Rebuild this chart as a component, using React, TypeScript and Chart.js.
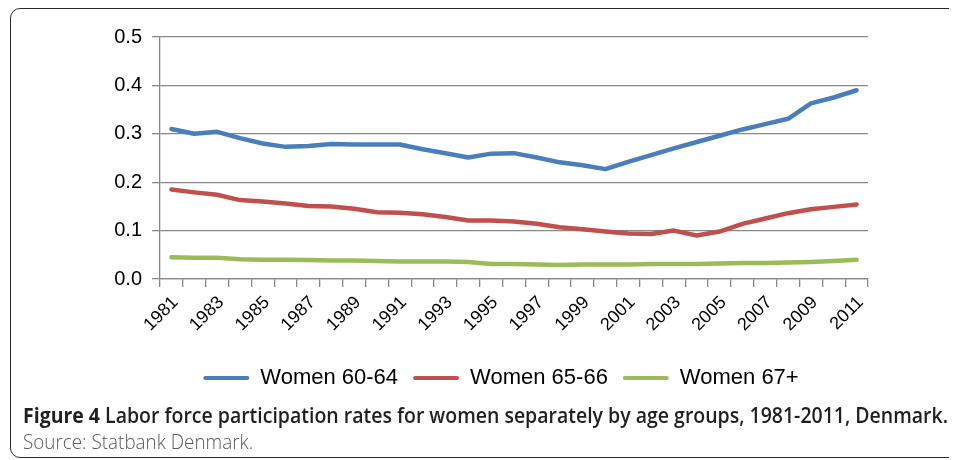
import React, { useEffect, useLayoutEffect, useRef, useState } from 'react';
import { Chart, registerables } from 'chart.js';

Chart.register(...registerables);

const years = [
  '1981', '1982', '1983', '1984', '1985', '1986', '1987', '1988', '1989', '1990',
  '1991', '1992', '1993', '1994', '1995', '1996', '1997', '1998', '1999', '2000',
  '2001', '2002', '2003', '2004', '2005', '2006', '2007', '2008', '2009', '2010', '2011',
];

const women6064 = [
  0.310, 0.300, 0.304, 0.291, 0.280, 0.273, 0.275, 0.279, 0.278, 0.278,
  0.278, 0.268, 0.260, 0.251, 0.259, 0.260, 0.251, 0.241, 0.235, 0.227,
  0.242, 0.256, 0.270, 0.283, 0.296, 0.309, 0.320, 0.331, 0.363, 0.375, 0.390,
];

const women6566 = [
  0.185, 0.179, 0.174, 0.163, 0.160, 0.156, 0.151, 0.150, 0.145, 0.138,
  0.137, 0.134, 0.128, 0.121, 0.121, 0.119, 0.114, 0.107, 0.103, 0.098,
  0.094, 0.093, 0.100, 0.090, 0.098, 0.114, 0.125, 0.136, 0.144, 0.149, 0.154,
];

const women67 = [
  0.045, 0.044, 0.044, 0.041, 0.040, 0.040, 0.039, 0.038, 0.038, 0.037,
  0.036, 0.036, 0.036, 0.035, 0.031, 0.031, 0.030, 0.029, 0.030, 0.030,
  0.030, 0.031, 0.031, 0.031, 0.032, 0.033, 0.033, 0.034, 0.035, 0.037, 0.040,
];

const seriesNames = ['Women 60-64', 'Women 65-66', 'Women 67+'];
const seriesColors = ['#4a7ebb', '#c0504d', '#9bbb59'];

const yMin = 0;
const yMax = 0.5;
const yStep = 0.1;

const captionBold = 'Figure 4';
const captionText = ' Labor force participation rates for women separately by age groups, 1981-2011, Denmark.';
const sourceText = 'Source: Statbank Denmark.';

function FitText(props: {
  width: number;
  left: number;
  top: number;
  fontSize: number;
  color: string;
  children: React.ReactNode;
}) {
  const ref = useRef<HTMLSpanElement>(null);
  const [scale, setScale] = useState(1);
  useLayoutEffect(() => {
    const measure = () => {
      if (ref.current) {
        const w = ref.current.offsetWidth;
        if (w > 0) setScale(props.width / w);
      }
    };
    measure();
    if ((document as any).fonts && (document as any).fonts.ready) {
      (document as any).fonts.ready.then(measure);
    }
  }, [props.width]);
  return (
    <span
      ref={ref}
      style={{
        position: 'absolute',
        left: props.left,
        top: props.top,
        fontFamily: '"Open Sans", "Noto Sans", sans-serif',
        fontSize: props.fontSize,
        lineHeight: 1,
        whiteSpace: 'nowrap',
        color: props.color,
        transform: `scaleX(${scale})`,
        transformOrigin: 'left top',
      }}
    >
      {props.children}
    </span>
  );
}

// shifts the bottom legend sideways so it sits under the plot like in the figure
const legendShift = {
  id: 'legendShift',
  afterLayout(chart: any) {
    if (chart.legend) {
      chart.legend.left += 63;
      chart.legend.right += 63;
    }
  },
};

export default function App() {
  const canvasRef = useRef<HTMLCanvasElement>(null);

  useEffect(() => {
    if (!canvasRef.current) return;
    const gridColor = '#888888';
    const chart = new Chart(canvasRef.current, {
      type: 'line',
      data: {
        labels: years,
        datasets: [women6064, women6566, women67].map((d, i) => ({
          label: seriesNames[i],
          data: d,
          borderColor: seriesColors[i],
          backgroundColor: seriesColors[i],
          borderWidth: 4.5,
          pointRadius: 0,
          tension: 0,
          borderCapStyle: 'round' as const,
          borderJoinStyle: 'round' as const,
          fill: false,
        })),
      },
      plugins: [legendShift],
      options: {
        animation: false,
        responsive: false,
        maintainAspectRatio: false,
        layout: { padding: { left: 0, right: 89, top: 29, bottom: 9 } },
        plugins: {
          tooltip: { enabled: false },
          legend: {
            position: 'bottom',
            labels: {
              boxWidth: 46,
              boxHeight: 4,
              padding: 15,
              color: '#000',
              font: { family: '"Liberation Sans", Arial, sans-serif', size: 22 },
              useBorderRadius: true,
              borderRadius: 2,
              generateLabels: (c: any) =>
                c.data.datasets.map((ds: any, i: number) => ({
                  text: ds.label,
                  fillStyle: ds.borderColor,
                  strokeStyle: ds.borderColor,
                  lineWidth: 0,
                  hidden: false,
                  datasetIndex: i,
                  fontColor: '#000',
                  borderRadius: 2,
                })),
            },
          },
        },
        scales: {
          x: {
            type: 'category',
            offset: true,
            grid: {
              display: true,
              drawOnChartArea: false,
              drawTicks: true,
              tickLength: 8,
              offset: true,
              color: gridColor,
              lineWidth: 1.3,
            },
            border: { display: true, color: gridColor, width: 1.3 },
            ticks: {
              autoSkip: false,
              minRotation: 45,
              maxRotation: 45,
              padding: 5,
              labelOffset: 4,
              color: '#000',
              font: { family: '"Liberation Sans", Arial, sans-serif', size: 18 },
              callback: (_v: any, i: number) => (i % 2 === 0 ? years[i] : ''),
            },
            afterFit: (s: any) => {
              s.height = 73;
            },
          },
          y: {
            min: yMin,
            max: yMax,
            grid: {
              color: gridColor,
              lineWidth: 1.3,
              tickLength: 8,
            },
            border: { display: true, color: gridColor, width: 1.3 },
            ticks: {
              stepSize: yStep,
              padding: 10,
              color: '#000',
              font: { family: '"Liberation Sans", Arial, sans-serif', size: 20 },
              callback: (v: any) => Number(v).toFixed(1),
            },
            afterFit: (s: any) => {
              s.width = 152;
            },
          },
        },
      },
    });
    return () => chart.destroy();
  }, []);

  return (
    <div style={{ position: 'relative', width: 949, height: 452, overflow: 'hidden' }}>
      <div
        style={{
          position: 'absolute',
          left: 2,
          top: 0,
          width: 1000,
          height: 450,
          border: '1.6px solid #2a2a2a',
          borderRadius: 10,
          boxSizing: 'border-box',
        }}
      />
      <canvas
        ref={canvasRef}
        width={949}
        height={400}
        style={{ position: 'absolute', left: 0, top: 0, width: 949, height: 400 }}
      />
      <FitText width={925} left={15} top={397} fontSize={21} color="#231f20">
        <b>{captionBold}</b>
        <b style={{ fontWeight: 600 }}>{captionText}</b>
      </FitText>
      <FitText width={230} left={15} top={424} fontSize={20} color="#58595b">
        <span style={{ fontWeight: 300 }}>{sourceText}</span>
      </FitText>
    </div>
  );
}
